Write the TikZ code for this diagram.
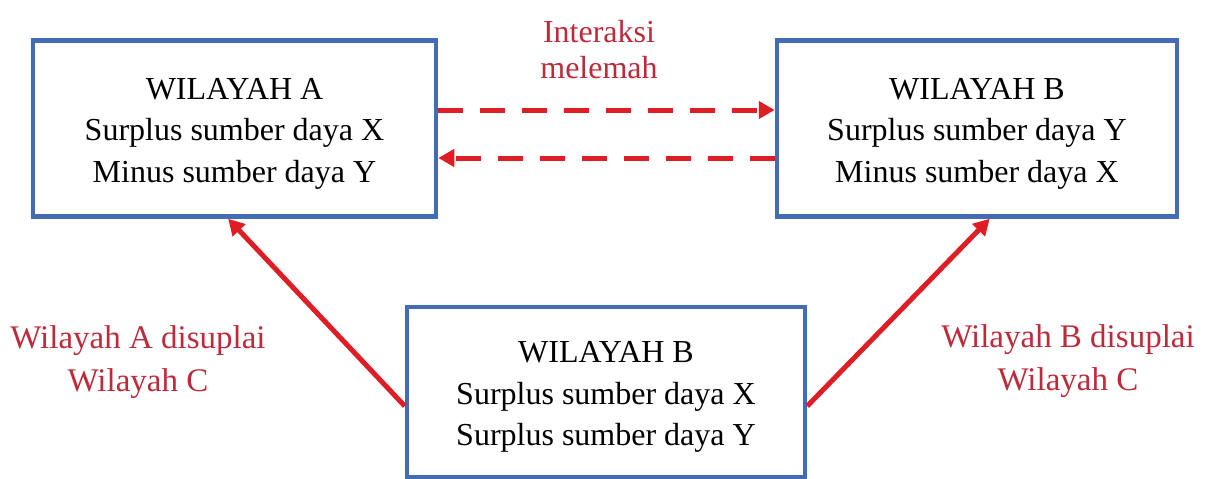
\documentclass[tikz,border=0pt]{standalone}
\usepackage{fontspec}
\setmainfont{Liberation Serif}
\usetikzlibrary{arrows.meta}
\definecolor{boxblue}{RGB}{68,108,180}
\definecolor{arrred}{RGB}{222,30,36}
\definecolor{lblred}{RGB}{190,42,58}
\newcommand{\atas}{\rule{0pt}{31pt}}

\begin{document}
\begin{tikzpicture}[x=1pt,y=-1pt,
  wilayah/.style={draw=boxblue,line width=4.5pt,fill=white,minimum width=400pt,minimum height=176pt,
    align=center,inner sep=0pt,font=\fontsize{32}{41.5}\selectfont},
  ket/.style={text=lblred,align=center,font=\fontsize{33}{43}\selectfont},
  aliran/.style={draw=arrred,line width=5pt,-{Triangle[length=16pt,width=17pt]}},
  lemah/.style={aliran,dash pattern=on 25pt off 17pt}]
  \useasboundingbox (0,0) rectangle (1211,479);
  \node[wilayah,minimum width=403pt] (wilA) at (234.5,128.5) {\atas WILAYAH A\\Surplus sumber daya X\\Minus sumber daya Y};
  \node[wilayah] (wilB) at (977,128.5) {\atas WILAYAH B\\Surplus sumber daya Y\\Minus sumber daya X};
  \node[wilayah,minimum width=398pt,minimum height=170pt] (wilC) at (606,392) {\atas WILAYAH B\\Surplus sumber daya X\\Surplus sumber daya Y};
  % interaksi antar wilayah
  \node[ket,font=\fontsize{32}{36}\selectfont] (lblInter) at (599,50) {Interaksi\\melemah};
  \draw[lemah] ([yshift=18.5pt]wilA.east) -- ([yshift=18.5pt]wilB.east -| wilB.west);
  \draw[lemah] ([yshift=-29.5pt]wilB.west) -- ([yshift=-29.5pt]wilA.east);
  % suplai dari wilayah C
  \draw[aliran] (wilC.184) -- (wilA.266);
  \draw[aliran] (wilC.-4) -- (wilB.278);
  \node[ket] (lblA) at (138,362) {Wilayah A disuplai\\Wilayah C};
  \node[ket] (lblB) at (1068,361) {Wilayah B disuplai\\Wilayah C};
\end{tikzpicture}
\end{document}
